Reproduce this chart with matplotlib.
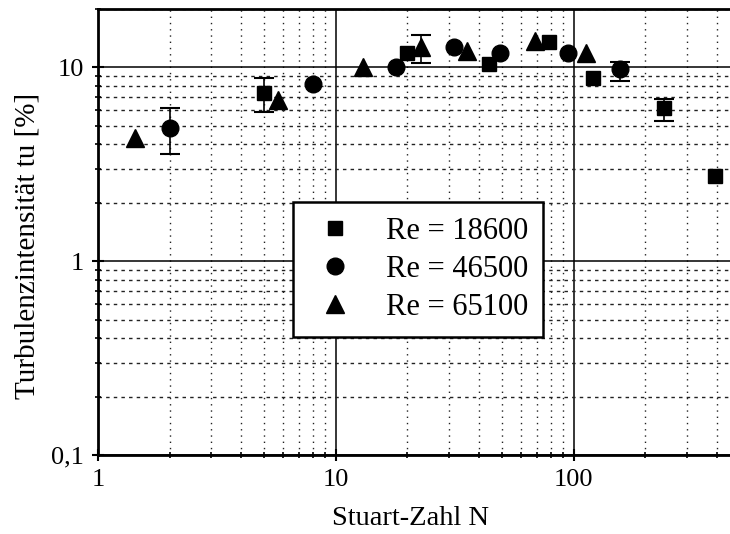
import matplotlib
matplotlib.use("Agg")
import matplotlib.pyplot as plt
from matplotlib.ticker import NullFormatter, LogLocator

plt.rcParams['font.family'] = ['Liberation Serif', 'DejaVu Serif']

# Re = 18600
n_18600 = [5.0, 20.0, 44.0, 78.5, 121.0, 239.0, 391.0]
tu_18600 = [7.4, 11.9, 10.4, 13.5, 8.8, 6.15, 2.74]
# Re = 46500
n_46500 = [2.0, 8.0, 17.9, 31.3, 49.0, 95.0, 157.0]
tu_46500 = [4.85, 8.2, 10.0, 12.7, 11.9, 11.8, 9.77]
# Re = 65100
n_65100 = [1.43, 5.7, 13.0, 22.8, 35.5, 68.6, 113.0]
tu_65100 = [4.3, 6.76, 10.1, 12.7, 12.2, 13.6, 11.8]

# error bars (N, value, lower, upper)
err_n = [2.0, 5.0, 22.8, 157.0, 239.0]
err_tu = [4.85, 7.4, 12.7, 9.77, 6.15]
err_lo = [3.56, 5.86, 10.5, 8.47, 5.27]
err_hi = [6.15, 8.78, 14.6, 10.7, 6.84]

labels = ['Re = 18600', 'Re = 46500', 'Re = 65100']
y_ticks = [0.1, 1, 10]
y_ticklabels = ['0,1', '1', '10']
x_ticks = [1, 10, 100]
x_ticklabels = ['1', '10', '100']

W, H = 730, 534
fig = plt.figure(figsize=(W / 100, H / 100), dpi=100)
ax = fig.add_axes([98 / W, 79 / H, 642 / W, 446 / H])
ax.set_xscale('log')
ax.set_yscale('log')
ax.set_xlim(1, 500)
ax.set_ylim(0.1, 20)

# grid
ax.xaxis.set_minor_locator(LogLocator(base=10, subs=range(2, 10)))
ax.yaxis.set_minor_locator(LogLocator(base=10, subs=range(2, 10)))
ax.xaxis.set_minor_formatter(NullFormatter())
ax.yaxis.set_minor_formatter(NullFormatter())
ax.grid(True, which='major', axis='both', color='black', lw=1.1, ls='-')
ax.grid(True, which='minor', axis='x', color='#222222', lw=1.0, ls=(0, (1, 3.5)))
ax.grid(True, which='minor', axis='y', color='#222222', lw=1.0, ls=(0, (2.5, 3)))
ax.set_axisbelow(True)

ax.set_xticks(x_ticks)
ax.set_xticklabels(x_ticklabels)
ax.set_yticks(y_ticks)
ax.set_yticklabels(y_ticklabels)
ax.tick_params(which='major', direction='inout', length=8, width=1.5,
               labelsize=19, pad=6, colors='black')
ax.tick_params(which='minor', direction='inout', length=5, width=1.2)

for s in ax.spines.values():
    s.set_linewidth(2.0)
    s.set_color('black')

# error bars
yerr = [[v - lo for v, lo in zip(err_tu, err_lo)],
        [hi - v for v, hi in zip(err_tu, err_hi)]]
ax.errorbar(err_n, err_tu, yerr=yerr, fmt='none', ecolor='black',
            elinewidth=1.2, capsize=7, capthick=1.5, zorder=3)

ax.plot(n_18600, tu_18600, ls='none', marker='s', ms=10.5, color='black',
        label=labels[0], zorder=4)
ax.plot(n_46500, tu_46500, ls='none', marker='o', ms=12, color='black',
        label=labels[1], zorder=4)
ax.plot(n_65100, tu_65100, ls='none', marker='^', ms=13, color='black',
        label=labels[2], zorder=4)

leg = ax.legend(loc='center', bbox_to_anchor=(0.499, 0.416), fontsize=22,
                frameon=True, fancybox=False, framealpha=1, edgecolor='black',
                handlelength=1.76, handletextpad=0.78, borderpad=0.49,
                labelspacing=0.3, borderaxespad=0)
leg.get_frame().set_linewidth(1.8)

ax.set_xlabel('Stuart-Zahl N', fontsize=20.5)
ax.xaxis.set_label_coords(0.486, -0.157)
ax.xaxis.label.set_va('baseline')
ax.set_ylabel('Turbulenzintensität tu [%]', fontsize=21)
ax.yaxis.set_label_coords(-0.11, 0.469)
ax.yaxis.label.set_va('center')

fig.savefig('out.png', dpi=100)
